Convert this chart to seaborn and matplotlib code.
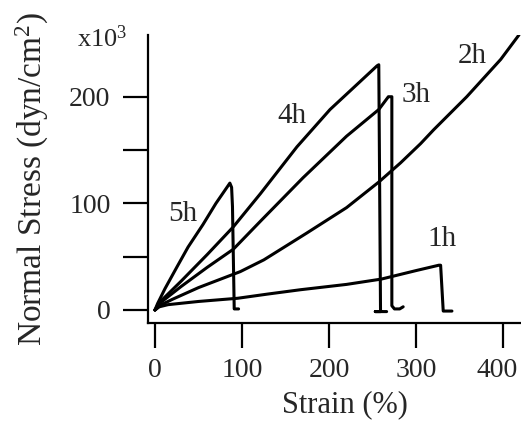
import matplotlib
matplotlib.use("Agg")
import numpy as np
import pandas as pd
import matplotlib.pyplot as plt
import seaborn as sns
from matplotlib.ticker import FixedLocator
from matplotlib.transforms import ScaledTranslation

# stress-strain curves (strain %, stress x10^3 dyn/cm^2)
strain_1h = [0, 5, 15, 50, 95, 130, 167, 220, 260, 300, 326, 328, 331, 341]
stress_1h = [0, 3, 5, 8, 11, 15, 19, 24, 29, 37, 42, 42, -1, -1]

strain_2h = [0, 5, 20, 50, 98, 125, 174, 220, 257, 282, 305, 320, 358, 397, 418]
stress_2h = [0, 4, 10, 21, 36, 47, 72, 96, 120, 138, 156, 169, 200, 235, 258]

strain_3h = [0, 5, 30, 60, 90, 122, 170, 220, 257, 268, 272, 272, 275, 281, 285]
stress_3h = [0, 6, 22, 40, 57, 84, 124, 163, 188, 200, 200, 4, 1, 1, 3]

strain_4h = [0, 5, 30, 60, 90, 121, 163, 201, 230, 255, 257, 259, 253, 266]
stress_4h = [0, 7, 27, 52, 78, 109, 153, 188, 210, 229, 230, -1.5, -1.5, -1.5]

strain_5h = [0, 3, 11.5, 25, 38, 55, 70, 86, 88, 89, 91, 96]
stress_5h = [0, 6, 20, 40, 59, 80, 100, 119, 115, 97, 1, 1]

curve_names = ["1h", "2h", "3h", "4h", "5h"]
label_x = [329.5, 364, 300, 157.5, 32]
label_y = [59.8, 231.2, 195.2, 175.5, 83.4]

frames = []
for name, xs, ys in zip(curve_names,
                        [strain_1h, strain_2h, strain_3h, strain_4h, strain_5h],
                        [stress_1h, stress_2h, stress_3h, stress_4h, stress_5h]):
    frames.append(pd.DataFrame({"strain": xs, "stress": ys, "curve": name}))
df = pd.concat(frames, ignore_index=True)

sns.set_style("ticks")
plt.rcParams["font.family"] = ["Liberation Serif", "DejaVu Serif"]
plt.rcParams["mathtext.fontset"] = "custom"
plt.rcParams["mathtext.rm"] = "Liberation Serif"
plt.rcParams["mathtext.it"] = "Liberation Serif:italic"

fig = plt.figure(figsize=(5.21, 4.21), dpi=100)
ax = fig.add_axes([148 / 521, 98 / 421, 373 / 521, 288 / 421])

sns.lineplot(data=df, x="strain", y="stress", hue="curve",
             palette={n: "black" for n in curve_names}, sort=False,
             estimator=None, legend=False, linewidth=2.2, ax=ax)

for name, lx, ly in zip(curve_names, label_x, label_y):
    ax.text(lx, ly, name, fontsize=21, ha="center", va="baseline")

ax.set_xlim(-8, 420.3)
ax.set_ylim(-12.2, 257.9)
ax.xaxis.set_major_locator(FixedLocator([0, 100, 200, 300, 400]))
ax.yaxis.set_major_locator(FixedLocator([0, 100, 200]))
ax.yaxis.set_minor_locator(FixedLocator([50, 150]))
ax.tick_params(which="both", direction="out", length=18, width=1.6,
               color="black", labelsize=20)
ax.tick_params(axis="x", pad=7)
ax.tick_params(axis="y", pad=9)

for side in ["top", "right"]:
    ax.spines[side].set_visible(False)
for side in ["left", "bottom"]:
    ax.spines[side].set_linewidth(1.6)
    ax.spines[side].set_color("black")

# last x tick label sits a little left of its tick, as in the original
fig.canvas.draw()
last = ax.get_xticklabels()[-1]
last.set_transform(last.get_transform() + ScaledTranslation(-6 / 100, 0, fig.dpi_scale_trans))

ax.set_xlabel("Strain (%)", fontsize=22)
ax.set_ylabel("Normal Stress (dyn/cm$^2$)", fontsize=24)
ax.xaxis.set_label_coords(0.528, -0.235)
ax.yaxis.set_label_coords(-0.26, 0.5)

fig.text(77 / 521, (421 - 47) / 421, r"x10$^3$", fontsize=19,
         ha="left", va="baseline")

fig.savefig("out.png", dpi=100)
